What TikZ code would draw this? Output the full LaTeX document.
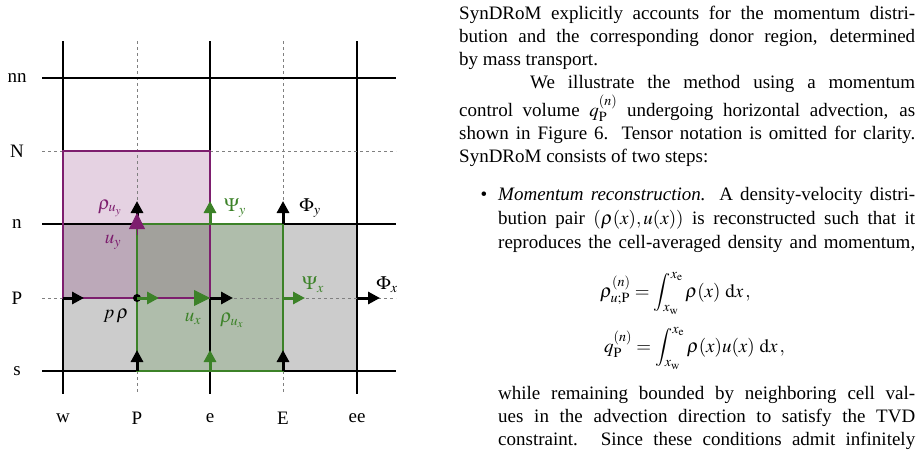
\documentclass[tikz,border=0pt]{standalone}
\usepackage{mathptmx}
\usepackage[no-math]{fontspec}
\setmainfont{Liberation Serif}
\usetikzlibrary{arrows.meta}
\definecolor{mvpurple}{RGB}{125,30,110}
\definecolor{mvgreen}{RGB}{60,130,40}
\tikzstyle{grid} = [line width=1.2pt]
\tikzstyle{aux} = [gray, dashed, line width=0.5pt]
\tikzstyle{flux} = [line width=3pt, -{Triangle[length=12pt,width=12pt]}]
\tikzstyle{big} = [line width=0.8pt, -{Triangle[length=16pt,width=16pt]}]
\tikzstyle{lbl} = [font=\fontsize{19}{23}\selectfont, inner sep=0pt]
\tikzstyle{line} = [lbl, anchor=base west]

\begin{document}
\begin{tikzpicture}[x=1pt,y=-1pt]
    \useasboundingbox (0,0) rectangle (923,455);
    % Grid points
    \foreach \cx/\xx in {w/63,P/137,e/210,E/283,ee/357}
      \foreach \cy/\yy in {nn/78,N/151,n/224,P/298,s/371}
        \coordinate (\cx\cy) at (\xx,\yy);
    % Fills
    \fill[gray!40] (ws) rectangle (een);
    \fill[mvpurple, opacity=0.2] (wP) rectangle (eN);
    \fill[mvgreen, opacity=0.2] (Ps) rectangle (En);
    % Grid lines
    \foreach \xx in {63,210,357} \draw[grid] (\xx,41) -- (\xx,394);
    \foreach \xx in {137,283} \draw[aux] (\xx,41) -- (\xx,394);
    \foreach \yy in {78,224,371} \draw[grid] (42,\yy) -- (396,\yy);
    \foreach \yy in {151,298} \draw[aux] (42,\yy) -- (396,\yy);
    % Outlines
    \draw[mvpurple, line width=1.2pt] (wP) rectangle (eN);
    \draw[mvgreen, line width=1.2pt] (Ps) rectangle (En);
    % Axis labels
    \foreach \nm/\yy in {nn/78,N/151,n/224,P/298,s/371}
      \node[lbl] (row\nm) at (17,\yy) {\nm};
    \foreach \nm/\xx in {w/63,P/137,e/210,E/283,ee/357}
      \node[lbl] (col\nm) at (\xx,418) {\nm};
    % Horizontal fluxes
    \draw[flux] (wP) -- ++(21,0);
    \fill (PP) circle (4pt);
    \draw[flux, mvgreen] (PP) -- ++(22,0);
    \draw[flux] (eP) -- ++(23,0);
    \draw[big, mvgreen] (196,298) -- (eP);
    \draw[flux, mvgreen] (EP) -- ++(22,0);
    \draw[flux] (eeP) -- ++(23,0);
    % Vertical fluxes
    \draw[flux] (Ps) -- ++(0,-21);
    \draw[flux, mvgreen] (es) -- ++(0,-21);
    \draw[flux] (Es) -- ++(0,-21);
    \draw[flux] (Pn) -- ++(0,-23);
    \draw[big, mvpurple] (137,235) -- (137,213);
    \draw[flux, mvgreen] (en) -- ++(0,-23);
    \draw[flux] (En) -- ++(0,-23);
    % Labels
    \node[lbl, mvpurple] (rhouy) at (110,208) {$\rho_{u_y}$};
    \node[lbl, mvpurple] (uy) at (113,242) {$u_y$};
    \node[lbl, mvgreen] (Psiy) at (235,208) {$\Psi_y$};
    \node[lbl] (Phiy) at (310,208) {$\Phi_y$};
    \node[lbl, mvgreen] (Psix) at (313,285) {$\Psi_x$};
    \node[lbl] (Phix) at (387,285) {$\Phi_x$};
    \node[lbl] (prho) at (116,316) {$p\,\rho$};
    \node[lbl, mvgreen] (ux) at (193,319) {$u_x$};
    \node[lbl, mvgreen] (rhoux) at (232,320) {$\rho_{u_x}$};
    % Text column
    \node[line] (l1) at (459,19) {\makebox[456pt][s]{SynDRoM explicitly accounts for the momentum distri-}};
    \node[line] (l2) at (459,42) {\makebox[456pt][s]{bution and the corresponding donor region, determined}};
    \node[line] (l3) at (459,65) {by mass transport.};
    \node[line] (l4) at (530,88) {\makebox[385pt][s]{We illustrate the method using a momentum}};
    \node[line] (l5) at (459,116) {\makebox[456pt][s]{control volume $q_{\mathrm{P}}^{(n)}$ undergoing horizontal advection, as}};
    \node[line] (l6) at (459,139) {\makebox[456pt][s]{shown in Figure 6. Tensor notation is omitted for clarity.}};
    \node[line] (l7) at (459,162) {SynDRoM consists of two steps:};
    \node[lbl, anchor=base] (bul) at (484,200) {\textbullet};
    \node[line] (l8) at (498,200) {\makebox[417pt][s]{\textit{Momentum reconstruction.} A density-velocity distri-}};
    \node[line] (l9) at (498,224) {\makebox[417pt][s]{bution pair $(\rho(x),u(x))$ is reconstructed such that it}};
    \node[line] (l10) at (498,248) {\makebox[417pt][s]{reproduces the cell-averaged density and momentum,}};
    \node[line] (eq1) at (600,297) {$\displaystyle \rho_{u;\mathrm{P}}^{(n)} = \int_{x_{\mathrm{w}}}^{x_{\mathrm{e}}} \rho(x)\ \mathrm{d}x\,,$};
    \node[line] (eq2) at (604,352) {$\displaystyle q_{\mathrm{P}}^{(n)} = \int_{x_{\mathrm{w}}}^{x_{\mathrm{e}}} \rho(x)u(x)\ \mathrm{d}x\,,$};
    \node[line] (l11) at (498,399) {\makebox[417pt][s]{while remaining bounded by neighboring cell val-}};
    \node[line] (l12) at (498,422) {\makebox[417pt][s]{ues in the advection direction to satisfy the TVD}};
    \node[line] (l13) at (498,445) {\makebox[417pt][s]{constraint. Since these conditions admit infinitely}};
\end{tikzpicture}
\end{document}
